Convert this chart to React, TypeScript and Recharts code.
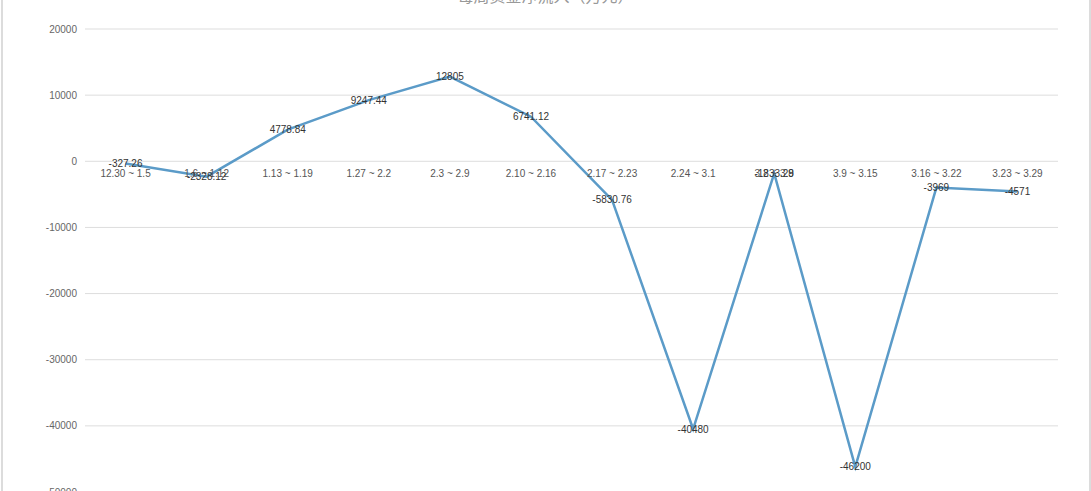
import React from 'react';
import { LineChart, Line, XAxis, YAxis, CartesianGrid, LabelList } from 'recharts';

const weeks = ['12.30 ~ 1.5', '1.6 ~ 1.12', '1.13 ~ 1.19', '1.27 ~ 2.2', '2.3 ~ 2.9', '2.10 ~ 2.16', '2.17 ~ 2.23', '2.24 ~ 3.1', '3.2 ~ 3.8', '3.9 ~ 3.15', '3.16 ~ 3.22', '3.23 ~ 3.29'];
const values = [-327.26, -2328.12, 4778.84, 9247.44, 12805, 6741.12, -5830.76, -40480, -1833.29, -46200, -3969, -4571];
const yTicks = [20000, 10000, 0, -10000, -20000, -30000, -40000, -50000];
const title = '每周资金净流入（万元）';

const data = weeks.map((w, i) => ({ week: w, value: values[i], zero: 0 }));

export default function App() {
  return (
    <div style={{ position: 'absolute', left: 0, top: 0, width: 1091, height: 491, overflow: 'hidden', background: '#fff', fontFamily: '"Liberation Sans", Arial, sans-serif' }}>
      <div style={{ position: 'absolute', left: 1, top: -40, width: 1086, height: 600, border: '2px solid #dcdcdc', boxSizing: 'content-box' }} />
      <div style={{ position: 'absolute', left: 0, width: 1091, top: -17, textAlign: 'center', fontSize: 16, color: '#999', fontFamily: '"Noto Sans CJK SC", sans-serif' }}>{title}</div>
      <div style={{ position: 'absolute', left: 0, top: 0 }}>
        <LineChart width={1091} height={506} data={data} margin={{ top: 29, right: 33, bottom: 14, left: 0 }}>
          <CartesianGrid vertical={false} stroke="#dddddd" />
          <XAxis dataKey="week" scale="band" hide />
          <YAxis
            domain={[-50000, 20000]}
            ticks={yTicks}
            width={85}
            axisLine={false}
            tickLine={false}
            tickSize={0}
            tickMargin={8}
            interval={0}
            tick={{ fontSize: 10, fill: '#666' }}
          />
          <Line dataKey="zero" stroke="none" dot={false} activeDot={false} isAnimationActive={false}>
            <LabelList dataKey="week" position="bottom" offset={9} style={{ fontSize: 10, fill: '#555' }} />
          </Line>
          <Line dataKey="value" stroke="#5b9bc8" strokeWidth={2.5} dot={false} activeDot={false} isAnimationActive={false}>
            <LabelList dataKey="value" position="center" style={{ fontSize: 10, fill: '#333' }} />
          </Line>
        </LineChart>
      </div>
    </div>
  );
}
